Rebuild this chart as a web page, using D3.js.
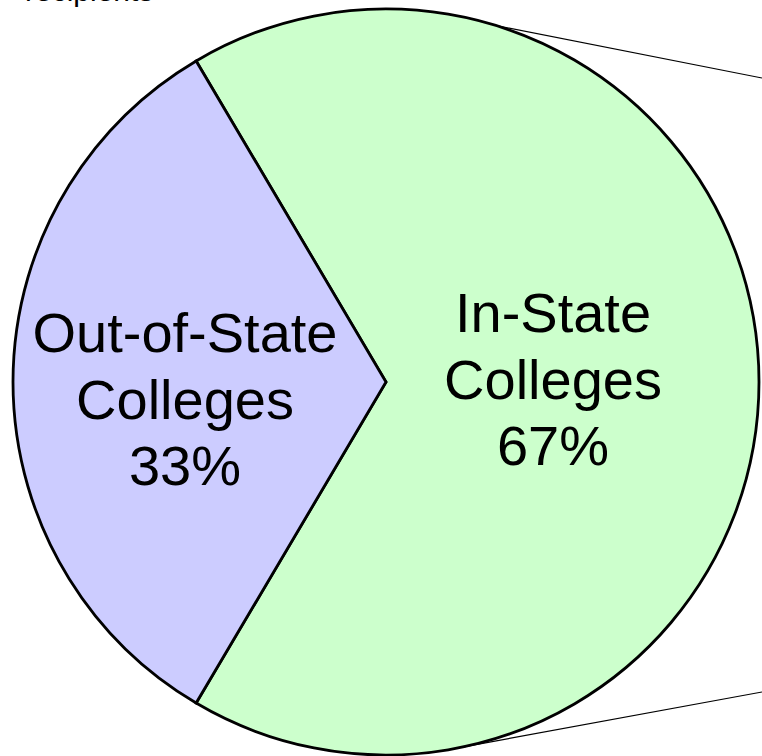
<!DOCTYPE html>
<html>
<head>
<meta charset="utf-8">
<script src="https://cdn.jsdelivr.net/npm/d3@7"></script>
<style>
	body { margin: 0; background: #fff; }
	svg { display: block; font-family: Arial, "Liberation Sans", sans-serif; }
</style>
</head>
<body>
<div id="chart"></div>
<script>
// data
var categories = ["In-State Colleges", "Out-of-State Colleges"];
var shares = [67, 33];
var labelLines = [["In-State", "Colleges", "67%"], ["Out-of-State", "Colleges", "33%"]];
var colors = ["#ccffcc", "#ccccff"];

var layout = {
	w: 762,
	h: 756,
	cx: 386,
	cy: 382,
	r: 373
}

var svg = d3.select("#chart")
			.append("svg")
			.attr("width", layout.w)
			.attr("height", layout.h);

// title cut off at the top, as in the original
svg.append("text")
	.attr("x", 25)
	.attr("y", 0.5)
	.style("font-size", "30px")
	.style("fill", "#000")
	.text("recipients");

var total = d3.sum(shares);
// first slice centred on the right side
var pie = d3.pie()
			.sort(null)
			.startAngle(Math.PI / 2 - Math.PI * shares[0] / total)
			.endAngle(Math.PI / 2 - Math.PI * shares[0] / total + 2 * Math.PI);

var arc = d3.arc().innerRadius(0).outerRadius(layout.r);

var g = svg.append("g")
			.attr("transform", "translate(" + layout.cx + "," + layout.cy + ")");

// connector lines to the (off-page) breakdown
var connectors = [
	{ a: 17.2, x2: 762, y2: 78 },
	{ a: 168.2, x2: 762, y2: 692 }
];
g.selectAll("line.conn")
	.data(connectors)
	.enter().append("line")
	.attr("class", "conn")
	.attr("x1", function(d){ return layout.r * Math.sin(d.a * Math.PI / 180); })
	.attr("y1", function(d){ return -layout.r * Math.cos(d.a * Math.PI / 180); })
	.attr("x2", function(d){ return d.x2 - layout.cx; })
	.attr("y2", function(d){ return d.y2 - layout.cy; })
	.style("stroke", "#000")
	.style("stroke-width", 1.2);

g.selectAll("path.slice")
	.data(pie(shares))
	.enter().append("path")
	.attr("class", "slice")
	.attr("d", arc)
	.style("fill", function(d, i){ return colors[i]; })
	.style("stroke", "#000")
	.style("stroke-width", 2.8)
	.style("stroke-linejoin", "miter");

// labels
var labelPos = [
	{ x: 553, y: 332 },
	{ x: 185, y: 352 }
];
var lineH = 66.5;
labelLines.forEach(function(lines, i){
	var t = svg.append("text")
				.attr("text-anchor", "middle")
				.style("font-size", "56px")
				.style("fill", "#000");
	lines.forEach(function(s, j){
		t.append("tspan")
			.attr("x", labelPos[i].x)
			.attr("y", labelPos[i].y + j * lineH)
			.text(s);
	});
});
</script>
</body>
</html>
